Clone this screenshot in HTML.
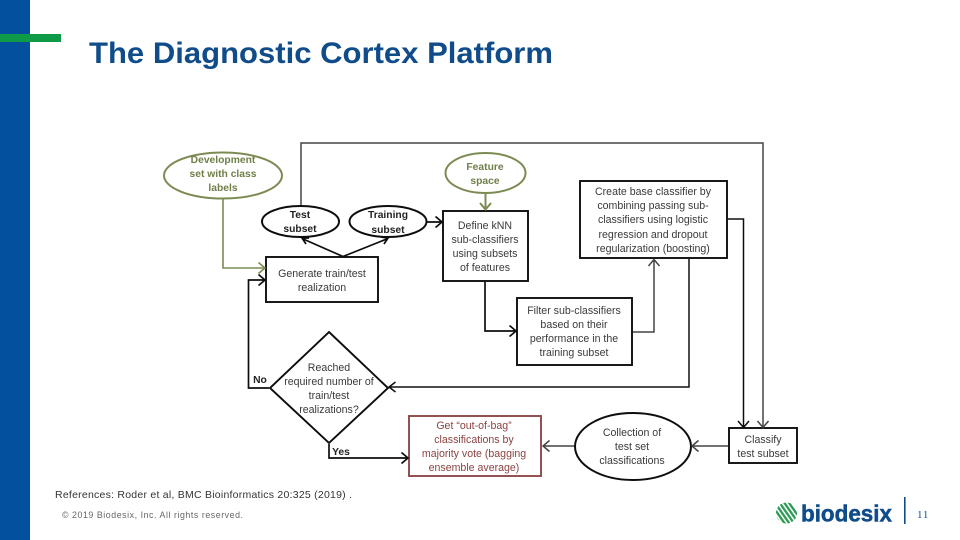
<!DOCTYPE html>
<html>
<head>
<meta charset="utf-8">
<style>
html,body{margin:0;padding:0;background:#fff;width:960px;height:540px;overflow:hidden}
svg{display:block}
text{font-family:"Liberation Sans",sans-serif}
.t{font-size:10.6px;fill:#3a3a3a;text-anchor:middle}
.b{font-weight:bold;fill:#222;font-size:10.3px}
.g{fill:#6f7f48;font-weight:bold;font-size:10.3px}
.r{fill:#8c4343}
.k{fill:none;stroke:#111;stroke-width:1.7}
.y{fill:none;stroke:#444;stroke-width:1.5}
.ol{fill:none;stroke:#7b8b52;stroke-width:2}
</style>
</head>
<body>
<svg width="960" height="540" viewBox="0 0 960 540" xmlns="http://www.w3.org/2000/svg">
<defs><filter id="s" x="-2%" y="-2%" width="104%" height="104%"><feGaussianBlur stdDeviation="0.3"/></filter></defs>
<rect width="960" height="540" fill="#fff"/>
<rect x="0" y="0" width="30" height="540" fill="#02509e"/>
<rect x="0" y="34" width="61" height="8" fill="#0e9a47"/>
<text x="89" y="63" font-size="29.500" font-weight="bold" fill="#0f4c89" textLength="464" lengthAdjust="spacingAndGlyphs">The Diagnostic Cortex Platform</text>

<g filter="url(#s)">
<!-- shapes -->
<ellipse cx="223" cy="175.500" rx="59" ry="23" class="ol" style="fill:#fff"/>
<ellipse cx="485.500" cy="173" rx="40" ry="20" class="ol" style="fill:#fff"/>
<ellipse cx="300.500" cy="221.500" rx="38.500" ry="15.500" fill="#fff" stroke="#111" stroke-width="2"/>
<ellipse cx="388" cy="221.500" rx="38.500" ry="15.500" fill="#fff" stroke="#111" stroke-width="2"/>
<rect x="266" y="257" width="112" height="45" fill="#fff" stroke="#111" stroke-width="1.900"/>
<rect x="443" y="211" width="85" height="70" fill="#fff" stroke="#111" stroke-width="1.900"/>
<rect x="580" y="181" width="147" height="77" fill="#fff" stroke="#111" stroke-width="1.900"/>
<rect x="517" y="298" width="115" height="67" fill="#fff" stroke="#111" stroke-width="1.900"/>
<polygon points="329,332 388,388 329,443 270,388" fill="#fff" stroke="#111" stroke-width="1.900"/>
<rect x="409" y="416" width="132" height="60" fill="#fff" stroke="#8c4a4a" stroke-width="1.900"/>
<ellipse cx="633" cy="446.500" rx="58" ry="33.500" fill="#fff" stroke="#111" stroke-width="2"/>
<rect x="729" y="428" width="68" height="35" fill="#fff" stroke="#111" stroke-width="1.900"/>

<!-- connectors -->
<path class="y" d="M301 205V143H763V427"/>
<path class="y" d="M757.500 421l5.500 6.500 5.500-6.500"/>
<path class="k" d="M728 219H743.500V427M738 421l5.500 6.500 5.500-6.500" style="stroke-width:1.5"/>
<path class="k" d="M689 259V387H389M395.500 382l-6.500 5 6.500 5" style="stroke-width:1.500"/>
<path class="y" d="M633 332H654V260M648.500 266l5.500-6.500 5.500 6.500"/>
<path class="k" d="M485 282V331H515M509.500 325.500l6.500 5.500-6.500 5.500"/>
<path class="k" d="M427 222H441M435.500 216.500l6.500 5.500-6.500 5.500"/>
<path class="ol" d="M485.500 193V209M480 203l5.500 6.500 5.500-6.500"/>
<path class="ol" d="M223 198V268H264M258.500 262.500l6.500 5.500-6.500 5.500" style="stroke-width:1.600"/>
<path class="k" d="M343 256.500L302 238.500M309 238h-7l4 6M343 256.500L388 238.500M381 237l7 1-4 6"/>
<path class="k" d="M269 388H248.500V280H264M258.500 274.500l6.500 5.500-6.500 5.500"/>
<path class="k" d="M329 444V458H407M401.500 452.500l6.500 5.500-6.500 5.500"/>
<path class="y" d="M728 446H692M698.500 440.500l-6.500 5.500 6.500 5.500"/>
<path class="y" d="M574 446H543M549.500 440.500l-6.500 5.500 6.500 5.500"/>

<!-- labels -->
<text class="t g" x="223" y="163">Development</text>
<text class="t g" x="223" y="177">set with class</text>
<text class="t g" x="223" y="191">labels</text>
<text class="t g" x="485" y="170">Feature</text>
<text class="t g" x="485" y="184">space</text>
<text class="t b" x="300" y="218">Test</text>
<text class="t b" x="300" y="232">subset</text>
<text class="t b" x="388" y="218">Training</text>
<text class="t b" x="388" y="233">subset</text>
<text class="t" x="322" y="277">Generate train/test</text>
<text class="t" x="322" y="291">realization</text>
<text class="t" x="485" y="229">Define kNN</text>
<text class="t" x="485" y="243">sub-classifiers</text>
<text class="t" x="485" y="257">using subsets</text>
<text class="t" x="485" y="271">of features</text>
<text class="t" x="653" y="195">Create base classifier by</text>
<text class="t" x="653" y="209">combining passing sub-</text>
<text class="t" x="653" y="223">classifiers using logistic</text>
<text class="t" x="653" y="238">regression and dropout</text>
<text class="t" x="653" y="252">regularization (boosting)</text>
<text class="t" x="574" y="314">Filter sub-classifiers</text>
<text class="t" x="574" y="328">based on their</text>
<text class="t" x="574" y="342">performance in the</text>
<text class="t" x="574" y="356">training subset</text>
<text class="t" x="329" y="371">Reached</text>
<text class="t" x="329" y="385">required number of</text>
<text class="t" x="329" y="399">train/test</text>
<text class="t" x="329" y="413">realizations?</text>
<text class="t b" x="260" y="383">No</text>
<text class="t b" x="341" y="455">Yes</text>
<text class="t r" x="474" y="429">Get “out-of-bag”</text>
<text class="t r" x="474" y="443">classifications by</text>
<text class="t r" x="474" y="457">majority vote (bagging</text>
<text class="t r" x="474" y="471">ensemble average)</text>
<text class="t" x="632" y="436">Collection of</text>
<text class="t" x="632" y="450">test set</text>
<text class="t" x="632" y="464">classifications</text>
<text class="t" x="763" y="443">Classify</text>
<text class="t" x="763" y="457">test subset</text>
</g>

<text x="55" y="498" font-size="10.500" fill="#333" textLength="297" lengthAdjust="spacing">References: Roder et al, BMC Bioinformatics 20:325 (2019) .</text>
<text x="62" y="518" font-size="8.800" fill="#666" textLength="181" lengthAdjust="spacing">© 2019 Biodesix, Inc. All rights reserved.</text>

<!-- logo -->
<clipPath id="c"><circle cx="786.500" cy="513" r="10.500"/></clipPath>
<g clip-path="url(#c)" stroke="#2e9a55" stroke-width="2.300" fill="none">
<path d="M766 510L782 533M769 507.600L785 530.600M772 505.200L788 528.200M775 502.800L791 525.800M778 500.400L794 523.400M781 498L797 521M784 495.600L800 518.600M787 493.200L803 516.200M790 490.800L806 513.800"/>
</g>
<text x="801" y="521.500" font-size="23" font-weight="bold" fill="#0f4c89" stroke="#0f4c89" stroke-width="0.500" textLength="91" lengthAdjust="spacingAndGlyphs">biodesix</text>
<rect x="904" y="497" width="1.600" height="27" fill="#0f4c89"/>
<text x="917" y="518" font-size="11" fill="#0f4c89" letter-spacing="0.800" style="font-family:'Liberation Serif',serif">11</text>
</svg>
</body>
</html>
